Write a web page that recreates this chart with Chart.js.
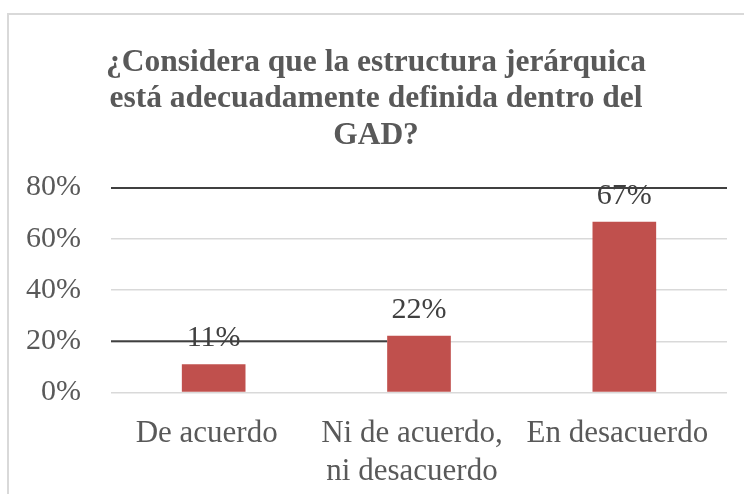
<!DOCTYPE html>
<html>
<head>
<meta charset="utf-8">
<script src="https://cdn.jsdelivr.net/npm/chart.js@4/dist/chart.umd.min.js"></script>
<style>
  html, body { margin: 0; padding: 0; background: #fff; overflow: hidden; }
  #frame { position: absolute; left: 7px; top: 13px; width: 780px; height: 520px; border: 2px solid #d9d9d9; }
  #wrap { position: absolute; left: 0; top: 0; width: 744px; height: 507px; }
</style>
</head>
<body>
<div id="frame"></div>
<div id="wrap"><canvas id="chart"></canvas></div>
<script>
// Chart data
const categories = [['De acuerdo'], ['Ni de acuerdo,', 'ni desacuerdo'], ['En desacuerdo']];
const percentages = [11.1, 22.2, 66.7];
const tickValues = [0, 20, 40, 60, 80];
const titleLines = ['¿Considera que la estructura jerárquica', 'está adecuadamente definida dentro del', 'GAD?'];

const serif = '"Liberation Serif", "Times New Roman", serif';

// draws the value above each bar
const valueLabels = {
    id: 'valueLabels',
    afterDatasetsDraw(chart) {
        const ctx = chart.ctx;
        const meta = chart.getDatasetMeta(0);
        ctx.save();
        ctx.font = '30px ' + serif;
        ctx.fillStyle = '#404040';
        ctx.textAlign = 'center';
        ctx.textBaseline = 'alphabetic';
        meta.data.forEach((bar, i) => {
            ctx.fillText(Math.round(percentages[i]) + '%', bar.x, bar.y - 18);
        });
        ctx.restore();
    }
};

// the stray dark line at 20% that stops at the second bar
const strayLine = {
    id: 'strayLine',
    beforeDatasetsDraw(chart) {
        const ctx = chart.ctx;
        const y = chart.scales.y.getPixelForValue(20);
        const bar = chart.getDatasetMeta(0).data[1];
        ctx.save();
        ctx.strokeStyle = '#404040';
        ctx.lineWidth = 2;
        ctx.beginPath();
        ctx.moveTo(chart.chartArea.left, y);
        ctx.lineTo(bar.x - bar.width / 2, y);
        ctx.stroke();
        ctx.restore();
    }
};

document.addEventListener('DOMContentLoaded', function() {
    const ctx = document.getElementById('chart').getContext('2d');
    new Chart(ctx, {
        type: 'bar',
        data: {
            labels: categories,
            datasets: [{
                data: percentages,
                backgroundColor: '#c0504d',
                barPercentage: 0.31,
                categoryPercentage: 1
            }]
        },
        plugins: [strayLine, valueLabels],
        options: {
            responsive: true,
            maintainAspectRatio: false,
            animation: false,
            layout: { padding: { left: 25, right: 17, top: 44, bottom: 2 } },
            plugins: {
                legend: { display: false },
                tooltip: { enabled: false },
                title: {
                    display: true,
                    text: titleLines,
                    color: '#595959',
                    font: { family: serif, size: 31.5, weight: 'bold', lineHeight: 1.17 },
                    padding: { top: 0, bottom: 33 }
                }
            },
            scales: {
                x: {
                    grid: { display: false },
                    border: { display: false },
                    ticks: {
                        color: '#595959',
                        font: { family: serif, size: 31, lineHeight: 1.2 },
                        padding: 15,
                        maxRotation: 0,
                        autoSkip: false,
                        labelOffset: -7
                    }
                },
                y: {
                    min: 0,
                    max: 80,
                    afterBuildTicks: scale => { scale.ticks = tickValues.map(v => ({ value: v })); },
                    afterFit: scale => { scale.width = 86; },
                    border: { display: false },
                    grid: {
                        drawTicks: false,
                        color: c => c.tick && c.tick.value === 80 ? '#404040' : '#d9d9d9',
                        lineWidth: c => c.tick && c.tick.value === 80 ? 2 : 1.5
                    },
                    ticks: {
                        color: '#595959',
                        font: { family: serif, size: 30 },
                        padding: 30,
                        callback: v => v + '%'
                    }
                }
            }
        }
    });
});
</script>
</body>
</html>
